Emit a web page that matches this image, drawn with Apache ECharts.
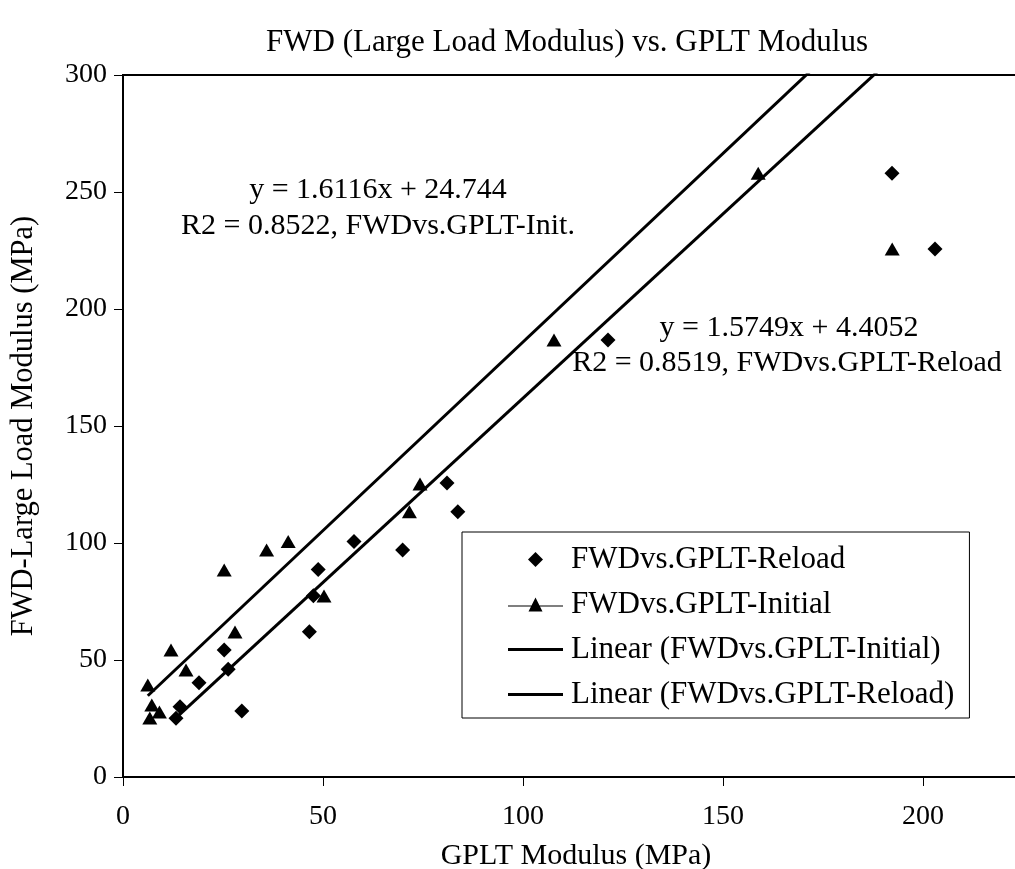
<!DOCTYPE html>
<html>
<head>
<meta charset="utf-8">
<script src="https://cdn.jsdelivr.net/npm/echarts@6/dist/echarts.min.js"></script>
<style>
html,body{margin:0;padding:0;background:#fff;}
#chart{width:1015px;height:869px;}
</style>
</head>
<body>
<div id="chart"></div>
<script>
// ---- data ----
const titleText = 'FWD (Large Load Modulus) vs. GPLT Modulus';
const xAxisTitle = 'GPLT Modulus (MPa)';
const yAxisTitle = 'FWD-Large Load Modulus (MPa)';
const seriesNames = ['FWDvs.GPLT-Reload', 'FWDvs.GPLT-Initial', 'Linear (FWDvs.GPLT-Initial)', 'Linear (FWDvs.GPLT-Reload)'];

const reloadX = [13.25, 14.25, 19, 25.3, 26.3, 29.7, 46.6, 47.6, 48.8, 57.75, 69.9, 83.7, 81, 121.25, 192.25, 203];
const reloadY = [25.1, 30, 40.3, 54.3, 46, 28.2, 62.1, 77.5, 88.7, 100.6, 97, 113.4, 125.6, 186.8, 258, 225.6];

const initialX = [6.2, 7.2, 6.7, 9.1, 12, 15.75, 25.3, 28, 35.9, 41.3, 50.25, 71.6, 74.25, 107.75, 158.8, 192.3];
const initialY = [39.3, 30.8, 25.2, 27.8, 54.3, 45.7, 88.5, 62, 97, 100.6, 77.4, 113.4, 125.2, 186.8, 258, 225.6];

// trend line coefficients [slope, intercept]
const initialFit = [1.6116, 24.744];
const reloadFit = [1.5749, 4.4052];

const initialLabel = ['y = 1.6116x + 24.744', 'R2 = 0.8522, FWDvs.GPLT-Init.'];
const reloadLabel = ['y = 1.5749x + 4.4052', 'R2 = 0.8519, FWDvs.GPLT-Reload'];

const xTicks = [0, 50, 100, 150, 200, 250];
const yTicks = [0, 50, 100, 150, 200, 250, 300];

// ---- build ----
const FONT = 'Liberation Serif, Times New Roman, serif';
function pairs(xs, ys) { return xs.map((x, i) => [x, ys[i]]); }
function fitLine(xs, fit) {
  const lo = Math.min.apply(null, xs), hi = Math.max.apply(null, xs);
  return [[lo, fit[0] * lo + fit[1]], [hi, fit[0] * hi + fit[1]]];
}

const chart = echarts.init(document.getElementById('chart'), null, {renderer: 'canvas'});

const textEl = (txt, x, y, size) => ({
  type: 'text', x: x, y: y, silent: true,
  style: {text: txt, fill: '#000', fontFamily: FONT, fontSize: size, align: 'center', verticalAlign: 'middle'}
});

const option = {
  backgroundColor: '#fff',
  animation: false,
  title: {
    text: titleText, left: 562, top: 22, textAlign: 'center',
    textStyle: {fontFamily: FONT, fontSize: 31, fontWeight: 'normal', color: '#000'}
  },
  grid: {
    left: 123, top: 75, right: -108, bottom: 92,
    containLabel: false, outerBoundsMode: 'none',
    show: true, borderColor: '#000', borderWidth: 2, backgroundColor: 'transparent'
  },
  xAxis: {
    type: 'value', min: xTicks[0], max: xTicks[xTicks.length - 1], interval: 50,
    name: xAxisTitle, nameLocation: 'middle', nameGap: 64,
    nameTextStyle: {fontFamily: FONT, fontSize: 30, color: '#000', padding: [0, 94, 0, 0]},
    axisLine: {show: true, onZero: false, lineStyle: {color: '#000', width: 2}},
    axisTick: {show: true, inside: false, length: 9, lineStyle: {color: '#000', width: 1}},
    axisLabel: {fontFamily: FONT, fontSize: 28, color: '#000', margin: 26},
    splitLine: {show: false}
  },
  yAxis: {
    type: 'value', min: yTicks[0], max: yTicks[yTicks.length - 1], interval: 50,
    name: yAxisTitle, nameLocation: 'middle', nameGap: 84,
    nameTextStyle: {fontFamily: FONT, fontSize: 30.5, color: '#000'},
    axisLine: {show: true, onZero: false, lineStyle: {color: '#000', width: 2}},
    axisTick: {show: true, inside: false, length: 9, lineStyle: {color: '#000', width: 1}},
    axisLabel: {fontFamily: FONT, fontSize: 28, color: '#000', margin: 16},
    splitLine: {show: false}
  },
  legend: {
    orient: 'vertical', left: 462, top: 532,
    padding: [12, 15, 8, 46],
    borderColor: '#000', borderWidth: 1, backgroundColor: '#fff',
    itemWidth: 55, itemHeight: 15, itemGap: 14,
    selectedMode: false,
    textStyle: {fontFamily: FONT, fontSize: 31, color: '#000', lineHeight: 31, padding: [0, 0, 0, 3]},
    data: [
      {name: seriesNames[0], icon: 'path://M7.5,0L15,7.5L7.5,15L0,7.5Z', itemStyle: {color: '#000', opacity: 1}},
      {name: seriesNames[1], icon: 'path://M0,9H55V10H0Z M20.5,15L27.5,1L34.5,15Z', itemStyle: {color: '#000', opacity: 1}},
      {name: seriesNames[2], icon: 'path://M0,0H55V3H0Z', itemStyle: {color: '#000', opacity: 1}},
      {name: seriesNames[3], icon: 'path://M0,0H55V3H0Z', itemStyle: {color: '#000', opacity: 1}}
    ]
  },
  graphic: [
    textEl(initialLabel[0], 378, 190, 30),
    textEl(initialLabel[1], 378, 226, 30),
    textEl(reloadLabel[0], 789, 328, 30),
    textEl(reloadLabel[1], 787, 363, 30)
  ],
  series: [
    {
      name: seriesNames[0], type: 'scatter', data: pairs(reloadX, reloadY),
      symbol: 'diamond', symbolSize: [15, 15], itemStyle: {color: '#000', opacity: 1}, z: 3
    },
    {
      name: seriesNames[1], type: 'scatter', data: pairs(initialX, initialY),
      symbol: 'triangle', symbolSize: [15, 13], itemStyle: {color: '#000', opacity: 1}, z: 3
    },
    {
      name: seriesNames[2], type: 'line', data: fitLine(initialX, initialFit),
      symbol: 'none', clip: true, color: '#000', lineStyle: {color: '#000', width: 3}, z: 2
    },
    {
      name: seriesNames[3], type: 'line', data: fitLine(reloadX, reloadFit),
      symbol: 'none', clip: true, color: '#000', lineStyle: {color: '#000', width: 3}, z: 2
    }
  ]
};
chart.setOption(option);
</script>
</body>
</html>
